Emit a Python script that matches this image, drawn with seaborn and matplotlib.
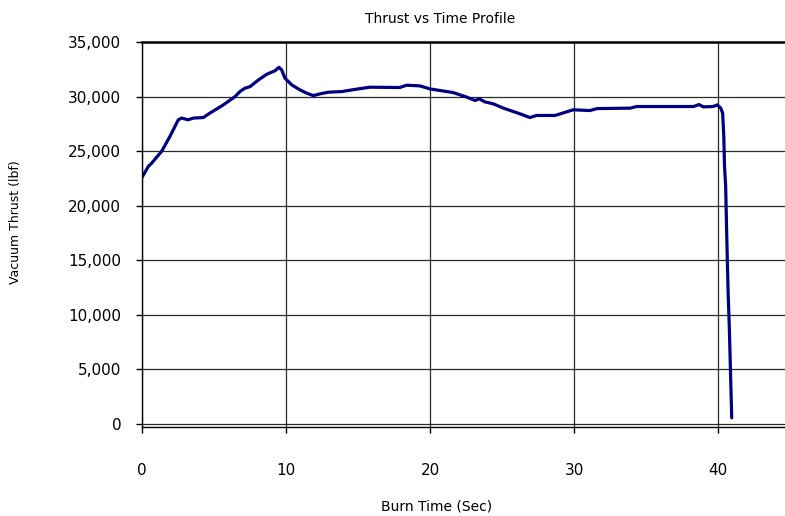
import matplotlib
matplotlib.use("Agg")
import matplotlib.pyplot as plt
from matplotlib.ticker import StrMethodFormatter
import seaborn as sns
import pandas as pd

# Burn time (s) and vacuum thrust (lbf) along the firing
burn_time = [0.0, 0.44, 0.67, 1.37, 1.94, 2.52, 2.75, 3.2, 3.56, 4.26, 4.72, 5.65,
             6.46, 6.8, 7.15, 7.5, 8.08, 8.66, 9.24, 9.51, 9.7, 9.93, 10.4, 10.97,
             11.44, 11.9, 12.36, 12.94, 13.87, 14.9, 15.83, 17.9, 18.38, 19.3, 20.0,
             21.6, 22.55, 23.13, 23.42, 23.8, 24.4, 25.1, 26.25, 26.94, 27.4, 28.68,
             29.95, 31.1, 31.6, 33.9, 34.35, 38.3, 38.68, 38.98, 39.67, 39.95, 40.19,
             40.32, 40.40, 40.45, 40.53, 40.6, 40.7, 40.78, 40.95]
thrust = [22600, 23600, 23900, 25000, 26350, 27870, 28030, 27870, 28030, 28080, 28490, 29240,
          30000, 30460, 30770, 30910, 31520, 32040, 32370, 32680, 32440, 31680, 31070, 30610,
          30310, 30090, 30250, 30400, 30460, 30680, 30860, 30830, 31040, 30980, 30700,
          30370, 29950, 29640, 29790, 29520, 29330, 28940, 28420, 28080, 28270, 28270,
          28790, 28720, 28900, 28940, 29090, 29090, 29270, 29060, 29090, 29240, 28940,
          28490, 26350, 23610, 21790, 17540, 12060, 9010, 570]

x_ticks = [0, 10, 20, 30, 40]
y_ticks = [0, 5000, 10000, 15000, 20000, 25000, 30000, 35000]

df = pd.DataFrame({"Burn Time (Sec)": burn_time, "Vacuum Thrust (lbf)": thrust})

sns.set_style("white")
plt.rcParams["font.family"] = ["DejaVu Sans"]
plt.rcParams["text.color"] = "black"
plt.rcParams["axes.labelcolor"] = "black"
plt.rcParams["xtick.color"] = "black"
plt.rcParams["ytick.color"] = "black"

fig = plt.figure(figsize=(7.85, 5.16), dpi=100)
ax = fig.add_axes([142 / 785, 1 - 427 / 516, 1 - 142 / 785, (427 - 42) / 516])

sns.lineplot(data=df, x="Burn Time (Sec)", y="Vacuum Thrust (lbf)", ax=ax,
             color="#000080", linewidth=2.3, sort=False, estimator=None)

ax.set_xlim(0, 44.65)
ax.set_ylim(-270, 35000)
ax.set_xticks(x_ticks)
ax.set_yticks(y_ticks)
ax.yaxis.set_major_formatter(StrMethodFormatter("{x:,.0f}"))

ax.grid(True, color="#2a2a2a", linewidth=0.9)
ax.set_axisbelow(True)

for side in ("left", "bottom"):
    ax.spines[side].set_color("black")
    ax.spines[side].set_linewidth(1.0)
ax.spines["top"].set_color("black")
ax.spines["top"].set_linewidth(1.8)
ax.spines["right"].set_visible(False)

ax.tick_params(axis="y", direction="out", length=4, width=1, colors="black",
               labelsize=11, pad=11, left=True)
ax.tick_params(axis="x", direction="out", length=4, width=1, colors="black",
               labelsize=11, pad=22, bottom=True)

ax.set_xlabel("Burn Time (Sec)", fontsize=10)
ax.set_ylabel("Vacuum Thrust (lbf)", fontsize=9)
ax.xaxis.set_label_coords((437 - 142) / 643, (427 - 499) / 385)
ax.yaxis.set_label_coords((22 - 142) / 643, (427 - 222) / 385)

fig.text(440 / 785, 1 - 19 / 516, "Thrust vs Time Profile", ha="center", va="center",
         fontsize=10)

fig.savefig("out.png", dpi=100)
